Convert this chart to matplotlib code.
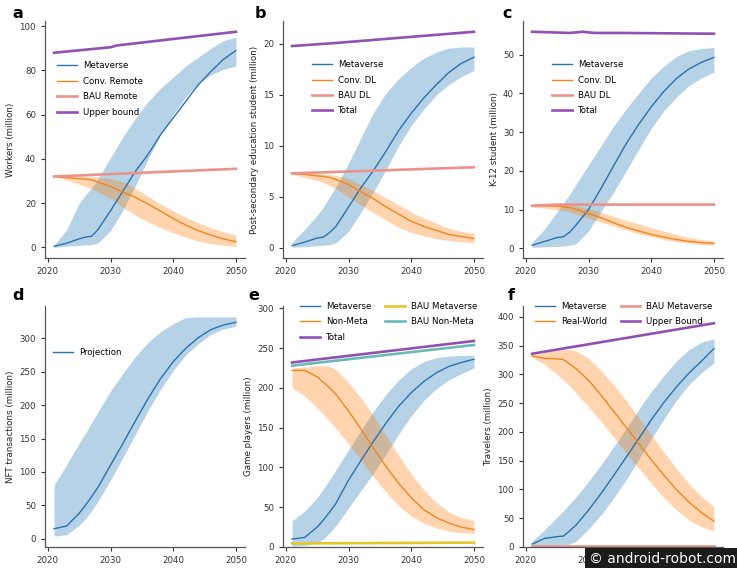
import matplotlib
matplotlib.use("Agg")
import matplotlib.pyplot as plt

# ---- data ----
years = [2021, 2023, 2025, 2026, 2027, 2028, 2030, 2032, 2034, 2036,
         2038, 2040, 2042, 2044, 2046, 2048, 2050]
ends = [2021, 2050]

# a: workers
meta_a = [0.4, 1.8, 3.8, 4.6, 5.0, 8.0, 16.5, 25.5, 34.5, 42, 51, 58.5, 66, 73.5, 79.5, 85, 89]
meta_a_hi = [1, 7.8, 20, 23.5, 27, 31, 40.5, 50, 58.5, 66, 72, 77, 82, 86, 90, 93.5, 95]
meta_a_lo = [0, 0.5, 0.8, 1.0, 1.2, 2.0, 7.5, 17, 28, 40, 51, 60, 68, 74, 78, 80.5, 82]
conv_a = [32, 31.5, 31, 30.8, 30.5, 29.5, 27.5, 25, 22.5, 19.5, 16.3, 13, 10, 7.5, 5.5, 3.8, 2.5]
conv_a_hi = [32.3, 32.3, 32.2, 32.1, 32, 31.8, 31, 29.5, 26.5, 23, 19.5, 16.5, 13.5, 11, 8.8, 7, 5.5]
conv_a_lo = [32, 30.5, 28.5, 27.5, 26.5, 25, 22, 18, 14.5, 11.5, 8.8, 6.5, 4.5, 2.8, 1.6, 0.9, 0.4]
bau_a = [32, 35.5]
upper_a_years = [2021, 2030, 2031, 2050]
upper_a = [88, 90.5, 91.3, 97.5]

# b: post-secondary students
meta_b = [0.2, 0.55, 0.95, 1.05, 1.5, 2.1, 4.0, 5.9, 7.6, 9.5, 11.5, 13.2, 14.7, 16.0, 17.2, 18.1, 18.7]
meta_b_hi = [0.5, 1.8, 3.2, 4.0, 5.0, 6.0, 8.3, 10.8, 13.3, 15.2, 16.6, 17.7, 18.6, 19.2, 19.6, 19.7, 19.7]
meta_b_lo = [0.05, 0.1, 0.2, 0.25, 0.3, 0.5, 1.6, 3.5, 5.5, 7.7, 10.0, 12.0, 13.6, 15.0, 16.0, 16.8, 17.4]
conv_b = [7.3, 7.2, 7.05, 7.0, 6.9, 6.7, 6.2, 5.5, 4.8, 4.0, 3.3, 2.6, 2.1, 1.7, 1.3, 1.1, 0.9]
conv_b_hi = [7.4, 7.35, 7.3, 7.25, 7.2, 7.1, 6.8, 6.2, 5.6, 4.9, 4.2, 3.5, 2.9, 2.4, 1.9, 1.6, 1.4]
conv_b_lo = [7.2, 6.9, 6.6, 6.4, 6.1, 5.8, 5.0, 4.2, 3.4, 2.7, 2.0, 1.5, 1.15, 0.9, 0.7, 0.6, 0.5]
bau_b = [7.3, 7.9]
total_b_years = [2021, 2028, 2050]
total_b = [19.8, 20.1, 21.2]

# c: K-12 students
meta_c = [0.8, 1.8, 2.8, 3.0, 4.2, 6.0, 10.0, 15.5, 21.3, 27, 32, 36.5, 40.5, 43.8, 46.3, 48.0, 49.3]
meta_c_hi = [1.5, 5.0, 9.5, 11.7, 14.0, 16.5, 21.5, 26.5, 31.5, 36.0, 40.0, 44.0, 47.0, 49.5, 51.0, 51.6, 51.8]
meta_c_lo = [0.3, 0.4, 0.5, 0.6, 0.8, 1.2, 4.5, 9.5, 14.5, 20.0, 25.5, 31.0, 35.5, 39.0, 42.0, 44.0, 45.5]
conv_c = [11.0, 11.0, 10.9, 10.7, 10.5, 10.1, 9.0, 7.9, 6.6, 5.4, 4.5, 3.6, 2.9, 2.3, 1.8, 1.5, 1.3]
conv_c_hi = [11.5, 11.5, 11.45, 11.4, 11.2, 11.0, 10.3, 9.3, 8.3, 7.2, 6.3, 5.3, 4.5, 3.6, 2.8, 2.3, 1.9]
conv_c_lo = [10.7, 10.4, 10.0, 9.8, 9.4, 8.8, 7.8, 6.8, 5.8, 4.8, 3.8, 3.0, 2.3, 1.7, 1.3, 1.0, 0.8]
bau_c_years = [2021, 2025, 2050]
bau_c = [11.0, 11.3, 11.3]
total_c_years = [2021, 2025, 2027, 2029, 2031, 2035, 2050]
total_c = [55.9, 55.7, 55.6, 55.9, 55.6, 55.6, 55.4]

# d: NFT transactions
proj_d = [15, 19, 38, 50, 63, 77, 110, 143, 177, 210, 240, 265, 285, 301, 313, 320, 324]
proj_d_hi = [80, 111, 143, 158, 174, 190, 221, 248, 273, 294, 310, 322, 331, 332, 332, 332, 332]
proj_d_lo = [4, 6, 20, 30, 42, 56, 88, 122, 157, 192, 224, 252, 275, 292, 306, 314, 318]

# e: game players
meta_e = [10, 12, 25, 34, 44, 55, 84, 109, 133, 156, 177, 194, 208, 219, 227, 232, 236]
meta_e_hi = [33, 45, 62, 73, 85, 97, 122, 147, 171, 192, 210, 224, 233, 238, 240, 241, 241]
meta_e_lo = [1, 2, 5, 10, 18, 27, 49, 71, 93, 117, 142, 165, 184, 199, 210, 218, 225]
nonmeta_e = [222, 222, 214, 207, 200, 192, 171, 148, 124, 101, 80, 62, 47, 37, 30, 25, 22]
nonmeta_e_hi = [225, 226, 228, 228, 227, 223, 207, 187, 165, 140, 115, 92, 72, 56, 44, 37, 33]
nonmeta_e_lo = [200, 190, 175, 167, 158, 149, 130, 109, 88, 69, 52, 39, 30, 24, 20, 18, 17]
bau_meta_e = [4.5, 5.5]
bau_non_e = [228, 254]
total_e = [232, 259]

# f: travelers
meta_f = [5, 15, 18, 19, 28, 38, 64, 93, 124, 156, 188, 221, 251, 278, 302, 323, 345]
meta_f_hi = [10, 30, 52, 63, 75, 87, 114, 143, 174, 206, 239, 270, 298, 323, 343, 356, 362]
meta_f_lo = [0, 1, 2, 3, 5, 10, 31, 56, 85, 117, 152, 188, 222, 255, 282, 303, 320]
real_f = [332, 328, 327, 326, 318, 310, 290, 264, 236, 208, 180, 152, 125, 100, 78, 60, 45]
real_f_hi = [334, 338, 342, 343, 343, 341, 328, 307, 282, 255, 225, 195, 165, 137, 110, 88, 70]
real_f_lo = [330, 318, 300, 290, 280, 268, 244, 218, 191, 164, 137, 111, 86, 65, 47, 35, 28]
bau_meta_f = [2, 2]
upper_f = [336, 389]

# ---- style ----
BLUE = "#2a72b0"
ORANGE = "#f0861e"
PINK = "#e9938c"
PURPLE = "#9151b2"
YELLOW = "#e6c72a"
TEAL = "#6cbab5"
THIN = 1.0
THICK = 1.9

plt.rcParams["font.family"] = "DejaVu Sans"
fig = plt.figure(figsize=(7.37, 5.68), dpi=100)

W, H = 737, 568
lefts = [45, 283, 523]
def rect(col, row):
    if row == 0:
        return [lefts[col] / W, 1 - 258 / H, 200 / W, 237 / H]
    return [lefts[col] / W, 1 - 547 / H, 200 / W, 241 / H]

def style(ax, ylabel):
    for s in ["top", "right"]:
        ax.spines[s].set_visible(False)
    for s in ["left", "bottom"]:
        ax.spines[s].set_color("#555555")
        ax.spines[s].set_linewidth(0.9)
    ax.tick_params(labelsize=6.2, colors="#333333", length=3, width=0.8)
    ax.set_ylabel(ylabel, fontsize=6.3, color="#222222", labelpad=3)
    ax.set_xticks([2020, 2030, 2040, 2050])

def band(ax, lo, hi, color):
    ax.fill_between(years, lo, hi, color=color, alpha=0.33, linewidth=0)

def legend(ax, x, y, ncol=1):
    ax.legend(loc="upper left", bbox_to_anchor=(x, y), frameon=False, fontsize=6.2,
              ncol=ncol, borderpad=0, borderaxespad=0, handlelength=2.3,
              handletextpad=0.7, labelspacing=0.75, columnspacing=1.6)

# a
ax = fig.add_axes(rect(0, 0))
band(ax, meta_a_lo, meta_a_hi, "tab:blue")
band(ax, conv_a_lo, conv_a_hi, "tab:orange")
ax.plot(years, meta_a, color=BLUE, lw=THIN, label="Metaverse")
ax.plot(years, conv_a, color=ORANGE, lw=THIN, label="Conv. Remote")
ax.plot(ends, bau_a, color=PINK, lw=THICK, label="BAU Remote")
ax.plot(upper_a_years, upper_a, color=PURPLE, lw=THICK, label="Upper bound")
style(ax, "Workers (million)")
ax.set_yticks([0, 20, 40, 60, 80, 100])
legend(ax, 0.06, 0.83)

# b
ax = fig.add_axes(rect(1, 0))
band(ax, meta_b_lo, meta_b_hi, "tab:blue")
band(ax, conv_b_lo, conv_b_hi, "tab:orange")
ax.plot(years, meta_b, color=BLUE, lw=THIN, label="Metaverse")
ax.plot(years, conv_b, color=ORANGE, lw=THIN, label="Conv. DL")
ax.plot(ends, bau_b, color=PINK, lw=THICK, label="BAU DL")
ax.plot(total_b_years, total_b, color=PURPLE, lw=THICK, label="Total")
style(ax, "Post-secondary education student (million)")
ax.set_yticks([0, 5, 10, 15, 20])
legend(ax, 0.144, 0.835)

# c
ax = fig.add_axes(rect(2, 0))
band(ax, meta_c_lo, meta_c_hi, "tab:blue")
band(ax, conv_c_lo, conv_c_hi, "tab:orange")
ax.plot(years, meta_c, color=BLUE, lw=THIN, label="Metaverse")
ax.plot(years, conv_c, color=ORANGE, lw=THIN, label="Conv. DL")
ax.plot(bau_c_years, bau_c, color=PINK, lw=THICK, label="BAU DL")
ax.plot(total_c_years, total_c, color=PURPLE, lw=THICK, label="Total")
style(ax, "K-12 student (million)")
ax.set_yticks([0, 10, 20, 30, 40, 50])
legend(ax, 0.144, 0.835)

# d
ax = fig.add_axes(rect(0, 1))
band(ax, proj_d_lo, proj_d_hi, "tab:blue")
ax.plot(years, proj_d, color=BLUE, lw=THIN, label="Projection")
style(ax, "NFT transactions (million)")
ax.set_yticks([0, 50, 100, 150, 200, 250, 300])
legend(ax, 0.04, 0.826)

# e
ax = fig.add_axes(rect(1, 1))
band(ax, meta_e_lo, meta_e_hi, "tab:blue")
band(ax, nonmeta_e_lo, nonmeta_e_hi, "tab:orange")
ax.plot(years, meta_e, color=BLUE, lw=THIN, label="Metaverse")
ax.plot(years, nonmeta_e, color=ORANGE, lw=THIN, label="Non-Meta")
ax.plot(ends, total_e, color=PURPLE, lw=THICK, label="Total")
ax.plot(ends, bau_meta_e, color=YELLOW, lw=THICK, label="BAU Metaverse")
ax.plot(ends, bau_non_e, color=TEAL, lw=THICK, label="BAU Non-Meta")
style(ax, "Game players (million)")
ax.set_ylim(0, 303)
ax.set_yticks([0, 50, 100, 150, 200, 250, 300])
legend(ax, 0.085, 1.017, ncol=2)

# f
ax = fig.add_axes(rect(2, 1))
band(ax, meta_f_lo, meta_f_hi, "tab:blue")
band(ax, real_f_lo, real_f_hi, "tab:orange")
ax.plot(years, meta_f, color=BLUE, lw=THIN, label="Metaverse")
ax.plot(years, real_f, color=ORANGE, lw=THIN, label="Real-World")
ax.plot(ends, bau_meta_f, color=PINK, lw=THICK, label="BAU Metaverse")
ax.plot(ends, upper_f, color=PURPLE, lw=THICK, label="Upper Bound")
style(ax, "Travelers (million)")
ax.set_ylim(0, 419)
ax.set_yticks([0, 50, 100, 150, 200, 250, 300, 350, 400])
legend(ax, 0.06, 1.017, ncol=2)

# panel letters
for letter, (px, py) in zip("abcdef", [(12, 14), (255, 14), (502, 14),
                                        (12, 295), (248, 295), (508, 295)]):
    fig.text(px / W, 1 - py / H, letter, fontsize=11.5, fontweight="bold",
             ha="left", va="center")

# watermark (covers part of panel f's x tick labels, as in the reference)
fig.text(0.998, 0.004, "\u00a9 android-robot.com", fontsize=10, color="white",
         ha="right", va="bottom", zorder=10,
         bbox=dict(facecolor="#1c1c1c", edgecolor="none", pad=2.5))

fig.savefig("out.png", dpi=100)
